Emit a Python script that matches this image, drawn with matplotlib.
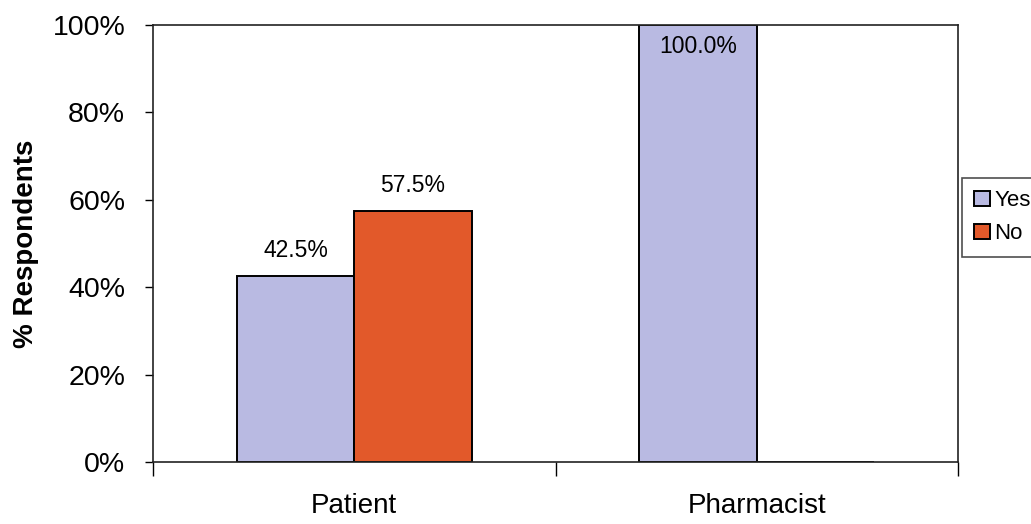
import matplotlib
matplotlib.use("Agg")
import matplotlib.pyplot as plt
import numpy as np

plt.rcParams['font.family'] = ['Liberation Sans', 'DejaVu Sans']

categories = ["Patient", "Pharmacist"]
series_names = ["Yes", "No"]
yes_values = [42.5, 100.0]
no_values = [57.5, 0.0]
y_ticks = [0, 20, 40, 60, 80, 100]

colors = {"Yes": "#b9bae2", "No": "#e2592a"}

fig = plt.figure(figsize=(10.31, 5.24), dpi=100)
ax = fig.add_axes([153 / 1031, 1 - 462 / 524, (958 - 153) / 1031, (462 - 25) / 524])

x = np.arange(len(categories))
width = 0.292
offsets = [-width / 2, width / 2]

bars = []
for name, vals, off in zip(series_names, [yes_values, no_values], offsets):
    b = ax.bar(x + off, vals, width=width, color=colors[name],
               edgecolor="black", linewidth=1.4, label=name, zorder=2)
    bars.append(b)

# value labels above each bar, or inside when the bar reaches the top
for b_set, vals in zip(bars, [yes_values, no_values]):
    for rect, v in zip(b_set, vals):
        if v <= 0:
            continue
        cx = rect.get_x() + rect.get_width() / 2
        if v >= 95:
            ax.text(cx, v - 2.2, f"{v:.1f}%", ha="center", va="top", fontsize=16.5)
        else:
            ax.text(cx, v + 3.2, f"{v:.1f}%", ha="center", va="bottom", fontsize=16.5)

ax.set_xlim(-0.5, 1.5)
ax.set_ylim(0, 100)
ax.set_yticks(y_ticks)
ax.set_yticklabels([f"{t}%" for t in y_ticks], fontsize=20.5)
ax.set_xticks(x)
ax.set_xticklabels(categories, fontsize=20)
ax.tick_params(axis="x", length=0, pad=22)
ax.set_xticks([-0.5, 0.5, 1.5], minor=True)
ax.tick_params(axis="x", which="minor", length=10, width=1, direction="out")
ax.tick_params(axis="y", length=6, width=1, direction="out", pad=14)
ax.set_ylabel("% Respondents", fontsize=20, fontweight="bold", labelpad=10)

for sp in ax.spines.values():
    sp.set_linewidth(1.2)
    sp.set_color("#222222")

leg = fig.legend(handles=[bars[0], bars[1]], labels=series_names,
                 loc="upper left", bbox_to_anchor=(962 / 1031, 1 - 178 / 524),
                 frameon=True, fancybox=False, fontsize=16,
                 handlelength=0.7, handleheight=0.7, handletextpad=0.2,
                 borderpad=0.55, labelspacing=0.55, borderaxespad=0)
leg.get_frame().set_edgecolor("#222222")
leg.get_frame().set_linewidth(1.2)

fig.savefig("out.png", dpi=100)
